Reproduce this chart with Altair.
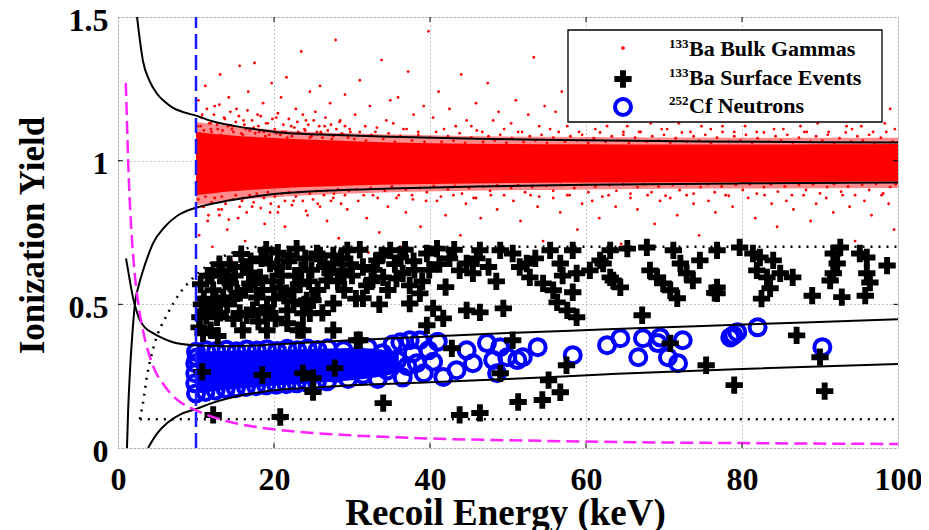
import altair as alt
import pandas as pd

FONT = "Liberation Serif"

# ---------------- axis ticks ----------------
X_TICKS = [0, 20, 40, 60, 80, 100]
Y_TICKS = [0, 0.5, 1, 1.5]
X_INNER = [20, 40, 60, 80]
Y_INNER = [0.5, 1.0]

# ---------------- curves ----------------
GAMMA_UP_E = [2.44, 3.2, 4.0, 5.0, 6.0, 7.05, 8.5, 10.1, 12.0, 14.7, 18.0, 21.2, 26.0, 35.0, 46.0, 60.0, 75.0, 90.0, 100.0]
GAMMA_UP_Y = [1.50, 1.347, 1.28, 1.233, 1.205, 1.184, 1.168, 1.156, 1.138, 1.122, 1.108, 1.097, 1.091, 1.083, 1.076, 1.071, 1.067, 1.064, 1.063]

GAMMA_LO_E = [1.15, 1.3, 1.54, 1.85, 2.18, 2.7, 3.21, 3.8, 4.49, 6.0, 7.7, 10.1, 14.4, 20.0, 27.0, 35.0, 46.0, 60.0, 80.0, 100.0]
GAMMA_LO_Y = [0.0, 0.13, 0.27, 0.40, 0.503, 0.57, 0.618, 0.665, 0.712, 0.77, 0.81, 0.837, 0.862, 0.884, 0.896, 0.903, 0.910, 0.916, 0.921, 0.924]

NR_UP_E = [1.03, 1.5, 1.92, 2.4, 2.82, 3.5, 4.49, 5.5, 7.05, 9.6, 14.4, 20.0, 30.0, 40.0, 50.0, 62.0, 75.0, 88.0, 100.0]
NR_UP_Y = [0.66, 0.585, 0.524, 0.475, 0.444, 0.418, 0.40, 0.385, 0.368, 0.358, 0.354, 0.36, 0.375, 0.388, 0.40, 0.412, 0.425, 0.437, 0.448]

NR_LO_E = [3.85, 5.0, 6.3, 8.0, 10.1, 12.2, 14.4, 18.6, 23.3, 28.5, 40.0, 50.0, 64.0, 80.0, 100.0]
NR_LO_Y = [0.0, 0.05, 0.087, 0.117, 0.137, 0.158, 0.175, 0.196, 0.208, 0.216, 0.229, 0.24, 0.258, 0.275, 0.292]

THRESH_E = [1.0, 1.1, 1.3, 1.6, 2.0, 2.56, 3.2, 4.5, 6.0, 7.5, 10.1, 14.0, 18.0, 23.7, 30.0, 40.0, 50.0, 64.0, 80.0, 100.0]
THRESH_Y = [1.27, 1.18, 1.0, 0.81, 0.65, 0.51, 0.41, 0.285, 0.215, 0.17, 0.13, 0.093, 0.072, 0.055, 0.044, 0.033, 0.027, 0.021, 0.017, 0.014]

SURF_E = [2.8, 3.2, 3.7, 4.7, 6.4, 7.9, 9.2, 11.8, 14.7, 18.0, 100.0]
SURF_Y = [0.1, 0.156, 0.247, 0.364, 0.469, 0.538, 0.58, 0.642, 0.68, 0.70, 0.70]
SURF_LO_E = [2.8, 100.0]
SURF_LO_Y = [0.1, 0.1]

ANALYSIS_E = 10.0          # recoil energy threshold (blue dashed)
Y_RANGE = [0.0, 1.5]

# ---------------- bulk gammas ----------------
CORE_E = [10, 12, 15, 20, 25, 30, 40, 50, 60, 70, 80, 90, 100]
CORE_LO = [0.88, 0.886, 0.894, 0.903, 0.909, 0.914, 0.919, 0.922, 0.924, 0.925, 0.926, 0.927, 0.928]
CORE_HI = [1.10, 1.094, 1.087, 1.079, 1.073, 1.068, 1.061, 1.058, 1.057, 1.056, 1.056, 1.057, 1.058]
HALO_E = [10, 15, 20, 30, 45, 60, 80, 100]
HALO_LO = [0.845, 0.862, 0.873, 0.886, 0.895, 0.9, 0.903, 0.905]
HALO_HI = [1.135, 1.12, 1.108, 1.095, 1.086, 1.082, 1.08, 1.08]

GAMMA_OUT = [
    (10.3,1.21),(10.8,1.16),(11.2,1.26),(11.9,1.13),(12.4,1.19),(13.1,1.30),(13.6,1.15),(14.2,1.22),(14.7,1.12),(10.6,1.12),
    (12.8,1.11),(11.5,0.79),(10.4,0.74),(12.1,0.70),(13.3,0.83),(14.0,0.76),(14.6,0.65),(13.0,0.81),(11.0,0.84),(12.6,0.60),
    (15.2,1.18),(15.6,1.33),(16.1,1.14),(16.7,1.24),(17.5,1.34),(17.9,1.16),(18.6,1.20),(19.2,1.13),(19.7,1.27),(16.4,1.11),
    (18.1,1.10),(15.4,0.80),(16.3,0.72),(17.2,0.84),(18.0,0.65),(18.8,0.78),(19.5,0.82),(17.7,0.58),(15.9,0.86),
    (20.3,1.15),(20.9,1.22),(21.6,1.29),(22.2,1.12),(22.8,1.18),(23.5,1.38),(24.1,1.14),(24.6,1.24),(21.1,1.10),(23.9,1.11),
    (20.6,0.84),(21.4,0.77),(22.5,0.86),(23.2,0.70),(24.3,0.81),(24.8,0.62),
    (25.3,1.17),(25.9,1.26),(26.5,1.12),(27.2,1.20),(27.9,1.42),(28.5,1.14),(29.1,1.23),(29.7,1.11),(26.0,1.10),(25.6,0.85),
    (26.8,0.79),(27.6,0.87),(28.3,0.73),(29.4,0.83),(28.9,0.66),
    (30.4,1.16),(31.0,1.28),(31.7,1.12),(32.3,1.19),(33.0,1.10),(33.8,1.35),(34.4,1.14),(34.9,1.21),(30.8,0.86),(31.9,0.80),
    (32.7,0.88),(33.5,0.75),(34.6,0.84),(32.1,0.68),
    (35.3,1.13),(35.9,1.22),(36.6,1.11),(37.2,1.31),(37.9,1.16),(38.5,1.10),(39.2,1.19),(39.8,1.45),(35.7,0.87),(36.9,0.82),
    (37.7,0.88),(38.8,0.77),(39.5,0.86),(36.3,0.70),
    (40.4,1.15),(41.1,1.24),(41.8,1.11),(42.5,1.18),(43.3,1.12),(44.0,1.30),(44.7,1.14),(40.9,0.86),(42.0,0.81),(43.0,0.88),
    (43.9,0.74),(44.6,0.85),
    (45.3,1.12),(45.9,1.20),(46.7,1.10),(47.4,1.27),(48.1,1.14),(48.8,1.17),(49.5,1.11),(45.6,0.87),(46.5,0.80),(47.8,0.88),
    (48.6,0.83),(49.4,0.69),
    (50.4,1.13),(51.0,1.21),(51.8,1.10),(52.6,1.16),(53.3,1.36),(54.0,1.12),(54.7,1.19),(50.7,0.86),(51.6,0.79),(52.9,0.88),
    (53.8,0.84),(54.5,0.72),
    (55.4,1.11),(56.1,1.17),(56.9,1.24),(57.6,1.12),(58.3,1.15),(59.1,1.10),(59.7,1.29),(55.8,0.87),(56.7,0.82),(57.9,0.88),
    (58.9,0.76),(59.5,0.85),
    (60.4,1.14),(61.2,1.11),(61.9,1.20),(62.7,1.12),(63.4,1.43),(64.1,1.16),(64.8,1.10),(60.8,0.86),(61.7,0.80),(62.9,0.88),
    (63.8,0.84),(64.5,0.71),
    (65.3,1.12),(66.0,1.18),(66.8,1.10),(67.5,1.25),(68.3,1.13),(69.0,1.16),(69.7,1.11),(65.7,0.87),(66.6,0.83),(67.9,0.88),
    (68.8,0.78),(69.5,0.86),
    (70.4,1.11),(71.1,1.19),(71.9,1.13),(72.6,1.32),(73.4,1.10),(74.1,1.15),(74.8,1.12),(70.8,0.87),(71.7,0.81),(72.9,0.88),
    (73.8,0.85),(74.5,0.74),
    (75.3,1.14),(76.0,1.11),(76.8,1.21),(77.5,1.12),(78.3,1.17),(79.0,1.10),(79.7,1.38),(75.7,0.86),(76.6,0.82),(77.9,0.88),
    (78.8,0.84),(79.5,0.69),
    (80.4,1.12),(81.2,1.18),(81.9,1.10),(82.7,1.14),(83.4,1.23),(84.1,1.11),(84.8,1.16),(80.8,0.87),(81.7,0.80),(82.9,0.88),
    (83.8,0.85),(84.5,0.77),
    (85.3,1.11),(86.0,1.15),(86.8,1.26),(87.5,1.12),(88.3,1.10),(89.0,1.19),(89.7,1.13),(85.7,0.86),(86.6,0.83),(87.9,0.88),
    (88.8,0.79),(89.5,0.85),
    (90.4,1.14),(91.1,1.10),(91.9,1.17),(92.6,1.34),(93.4,1.12),(94.1,1.11),(94.8,1.21),(90.8,0.87),(91.7,0.82),(92.9,0.88),
    (93.8,0.84),(94.5,0.72),
    (95.3,1.12),(96.0,1.16),(96.8,1.10),(97.5,1.23),(98.3,1.13),(99.0,1.18),(99.6,1.11),(95.7,0.86),(96.6,0.81),(97.9,0.88),
    (98.8,0.85),(99.5,0.76),
]

GAMMA_NEAR = [
    (10.2,1.12),(10.7,1.15),(11.0,1.105),(11.4,1.18),(11.7,1.13),(12.0,1.10),(12.3,1.16),(12.7,1.125),(13.0,1.195),
    (13.4,1.105),(13.7,1.145),(14.1,1.12),(14.4,1.17),(14.8,1.10),(15.1,1.135),(15.5,1.155),(15.8,1.095),(16.2,1.125),
    (16.6,1.175),(16.9,1.105),(17.2,1.14),(17.6,1.095),(18.0,1.12),(18.3,1.155),(18.7,1.10),(19.0,1.13),(19.4,1.09),
    (19.8,1.145),(20.1,1.11),(20.5,1.165),(20.8,1.09),(21.2,1.125),(21.5,1.10),(21.9,1.145),(22.3,1.085),(22.6,1.115),
    (23.0,1.135),(23.3,1.095),(23.7,1.16),(24.0,1.105),(24.4,1.125),(24.8,1.085),(25.1,1.14),(25.5,1.10),(25.8,1.12),
    (26.2,1.08),(26.6,1.15),(26.9,1.105),(27.3,1.125),(27.6,1.085),(28.0,1.11),(28.4,1.135),(28.7,1.095),(29.1,1.12),
    (29.5,1.08),(29.8,1.10),
    (10.5,1.095),(11.9,1.11),(13.2,1.09),(14.6,1.11),(16.0,1.09),(17.4,1.115),(18.9,1.085),(20.3,1.095),(21.7,1.08),
    (23.1,1.10),(24.6,1.08),(26.0,1.095),(27.4,1.075),(28.9,1.09),
    (10.3,0.865),(10.8,0.84),(11.2,0.875),(11.6,0.81),(12.0,0.855),(12.4,0.87),(12.9,0.83),(13.3,0.875),(13.8,0.85),
    (14.2,0.795),(14.7,0.865),(15.1,0.88),(15.6,0.84),(16.0,0.87),(16.5,0.82),(16.9,0.88),(17.4,0.855),(17.8,0.885),
    (18.3,0.835),(18.7,0.87),(19.2,0.89),(19.6,0.85),(20.1,0.875),(20.5,0.82),(21.0,0.885),(21.4,0.86),(21.9,0.89),
    (22.3,0.845),(22.8,0.875),(23.2,0.89),(23.7,0.86),(24.1,0.825),(24.6,0.885),(25.0,0.865),(25.5,0.895),(25.9,0.84),
    (26.4,0.88),(26.8,0.895),(27.3,0.86),(27.7,0.885),(28.2,0.90),(28.6,0.85),(29.1,0.88),(29.6,0.895),
    (30.3,1.075),(31.0,1.10),(31.8,1.07),(32.5,1.09),(33.2,1.115),(34.0,1.075),(34.7,1.095),(35.5,1.065),(36.2,1.085),
    (37.0,1.11),(37.7,1.07),(38.5,1.09),(39.3,1.065),(40.0,1.08),(40.8,1.10),(41.5,1.065),(42.3,1.085),(43.0,1.07),
    (43.8,1.095),(44.5,1.062),(45.3,1.08),(46.0,1.105),(46.8,1.065),(47.5,1.085),(48.3,1.07),(49.0,1.09),(49.8,1.062),
    (50.5,1.078),(51.3,1.10),(52.0,1.065),(52.8,1.085),(53.5,1.07),(54.3,1.09),(55.0,1.062),(55.8,1.08),(56.5,1.10),
    (57.3,1.066),(58.0,1.085),(58.8,1.07),(59.5,1.09),(60.3,1.062),(61.0,1.078),(61.8,1.098),(62.5,1.066),(63.3,1.085),
    (64.0,1.07),(64.8,1.09),(65.5,1.062),(66.3,1.08),(67.0,1.10),(67.8,1.066),(68.5,1.085),(69.3,1.07),(70.0,1.09),
    (70.8,1.062),(71.5,1.078),(72.3,1.098),(73.0,1.066),(73.8,1.085),(74.5,1.07),(75.3,1.09),(76.0,1.062),(76.8,1.08),
    (77.5,1.10),(78.3,1.066),(79.0,1.085),(79.8,1.07),(80.5,1.09),(81.3,1.062),(82.0,1.078),(82.8,1.098),(83.5,1.066),
    (84.3,1.085),(85.0,1.07),(85.8,1.09),(86.5,1.062),(87.3,1.08),(88.0,1.10),(88.8,1.066),(89.5,1.085),(90.3,1.07),
    (91.0,1.09),(91.8,1.062),(92.5,1.078),(93.3,1.098),(94.0,1.066),(94.8,1.085),(95.5,1.07),(96.3,1.09),(97.0,1.062),
    (97.8,1.08),(98.5,1.10),(99.3,1.066),
    (30.6,0.90),(31.5,0.88),(32.4,0.905),(33.3,0.87),(34.2,0.895),(35.1,0.91),(36.0,0.88),(36.9,0.90),(37.8,0.865),
    (38.7,0.905),(39.6,0.89),(40.5,0.912),(41.4,0.875),(42.3,0.90),(43.2,0.912),(44.1,0.885),(45.0,0.905),(45.9,0.87),
    (46.8,0.91),(47.7,0.895),(48.6,0.915),(49.5,0.88),(50.4,0.905),(51.3,0.915),(52.2,0.89),(53.1,0.908),(54.0,0.875),
    (54.9,0.912),(55.8,0.895),(56.7,0.916),(57.6,0.88),(58.5,0.905),(59.4,0.915),(60.3,0.89),(61.2,0.91),(62.1,0.875),
    (63.0,0.915),(63.9,0.895),(64.8,0.917),(65.7,0.885),(66.6,0.908),(67.5,0.917),(68.4,0.89),(69.3,0.91),(70.2,0.878),
    (71.1,0.915),(72.0,0.897),(72.9,0.918),(73.8,0.885),(74.7,0.908),(75.6,0.918),(76.5,0.89),(77.4,0.91),(78.3,0.878),
    (79.2,0.916),(80.1,0.898),(81.0,0.918),(81.9,0.885),(82.8,0.908),(83.7,0.918),(84.6,0.892),(85.5,0.91),(86.4,0.88),
    (87.3,0.916),(88.2,0.898),(89.1,0.918),(90.0,0.886),(90.9,0.908),(91.8,0.919),(92.7,0.892),(93.6,0.91),(94.5,0.88),
    (95.4,0.916),(96.3,0.898),(97.2,0.919),(98.1,0.886),(99.0,0.908),(99.7,0.918),
]

# ---------------- surface events ----------------
SURFACE = [
    (13.3,0.618),(16.0,0.63),(19.5,0.642),(22.9,0.694),(22.0,0.67),(12.2,0.549),(14.4,0.573),(16.9,0.573),(18.2,0.594),
    (20.4,0.63),(20.8,0.559),(22.4,0.549),(25.0,0.514),(27.6,0.503),(23.7,0.469),(21.7,0.434),(19.1,0.41),(16.0,0.41),
    (10.9,0.399),(10.5,0.455),(12.7,0.455),(16.5,0.462),(11.8,0.49),(13.5,0.524),(15.3,0.538),(17.8,0.524),(19.1,0.49),
    (21.7,0.479),(23.1,0.41),(25.9,0.67),(26.8,0.583),(27.6,0.642),
    (11.0,0.52),(12.0,0.60),(14.0,0.50),(15.0,0.60),(17.0,0.65),(18.5,0.55),(20.0,0.52),(21.0,0.60),(23.5,0.62),(24.5,0.58),
    (14.8,0.45),(18.0,0.44),(13.0,0.64),(15.8,0.675),(19.0,0.69),(11.5,0.60),(24.0,0.66),(22.5,0.51),(10.6,0.57),(20.5,0.68),
    (17.3,0.48),(12.8,0.39),
    (10.4,0.42),(10.7,0.50),(11.3,0.46),(11.9,0.41),(12.5,0.51),(13.1,0.47),(13.8,0.58),(14.3,0.64),(14.9,0.52),(15.6,0.47),
    (16.3,0.55),(16.8,0.61),(17.6,0.59),(18.4,0.66),(18.9,0.47),(19.8,0.58),(20.2,0.45),(21.3,0.53),(21.9,0.65),(22.7,0.60),
    (23.3,0.57),(23.9,0.50),(24.8,0.62),(25.6,0.55),(26.2,0.47),(26.5,0.63),(28.2,0.58),(28.6,0.66),(29.8,0.64),(30.5,0.52),
    (31.0,0.69),(32.8,0.62),(33.8,0.67),(34.6,0.55),(35.7,0.59),(36.8,0.69),(37.9,0.65),(39.0,0.58),(39.9,0.62),(41.2,0.64),
    (42.0,0.56),(43.1,0.69),
    (25.5,0.677),(27.6,0.67),(29.4,0.688),(27.2,0.608),(28.8,0.618),(31.4,0.63),(33.2,0.653),(34.9,0.688),(36.2,0.663),
    (36.5,0.608),(34.0,0.594),(31.9,0.566),(37.4,0.566),(38.7,0.538),(31.4,0.521),(37.4,0.503),(39.6,0.677),(40.9,0.694),
    (40.4,0.486),(41.7,0.451),(39.6,0.427),(43.8,0.618),(44.7,0.642),(45.5,0.608),(46.0,0.66),(44.7,0.479),(46.4,0.472),
    (49.4,0.486),(46.4,0.688),(49.0,0.688),(50.6,0.677),(51.5,0.63),(52.4,0.642),(52.8,0.594),(54.5,0.573),(55.8,0.549),
    (56.3,0.507),(57.6,0.479),(58.8,0.455),(55.4,0.688),(56.7,0.642),(58.3,0.688),(58.8,0.608),(60.5,0.618),(61.8,0.653),
    (63.1,0.594),(58.3,0.542),(24.2,0.514),(24.6,0.469),(23.7,0.41),(27.6,0.41),(30.6,0.375),
    (30.0,0.60),(32.5,0.58),(35.5,0.64),(38.0,0.62),(29.0,0.55),(33.5,0.50),(42.5,0.66),(47.5,0.63),(48.5,0.58),(53.5,0.66),
    (57.0,0.60),
    (63.1,0.688),(65.3,0.694),(67.8,0.698),(62.2,0.642),(63.5,0.583),(64.4,0.559),(68.2,0.618),(69.1,0.594),(69.9,0.573),
    (70.8,0.549),(71.7,0.521),(71.2,0.688),(72.1,0.642),(72.9,0.608),(73.7,0.583),(74.6,0.653),(76.8,0.688),(76.8,0.559),
    (76.8,0.538),(79.7,0.698),(81.4,0.677),(82.3,0.663),(81.9,0.618),(83.2,0.594),(84.0,0.653),(84.9,0.608),(86.5,0.594),
    (83.6,0.556),(91.7,0.677),(92.2,0.642),(91.7,0.608),(91.3,0.583),(92.6,0.698),(96.0,0.663),(96.0,0.608),(96.4,0.576),
    (95.1,0.677),(98.6,0.635),(82.5,0.52),(89.0,0.53),(92.8,0.525),(95.8,0.53),(76.5,0.54),(67.2,0.462),
    (10.8,0.265),(18.5,0.254),(23.7,0.26),(25.0,0.243),(12.2,0.115),(20.8,0.108),(25.0,0.195),(27.8,0.278),(31.0,0.375),
    (34.0,0.156),(43.8,0.115),(46.4,0.122),(51.3,0.16),(54.4,0.167),(55.2,0.236),(56.7,0.194),(57.5,0.288),(42.8,0.347),
    (49.0,0.26),(50.6,0.375),(70.8,0.364),(75.4,0.288),(79.0,0.219),(87.0,0.392),(90.0,0.316),(90.6,0.198),
]

# ---------------- neutrons ----------------
BLOB_E = [10, 12, 15, 18, 21, 24, 27, 30, 33, 36]
BLOB_LO = [0.19, 0.197, 0.205, 0.212, 0.218, 0.224, 0.23, 0.236, 0.245, 0.262]
BLOB_HI = [0.335, 0.337, 0.339, 0.34, 0.342, 0.344, 0.346, 0.348, 0.345, 0.33]

NEUTRONS = [
    (10.0,0.335),(11.3,0.34),(12.6,0.338),(13.9,0.342),(15.2,0.337),(16.5,0.343),(17.8,0.339),(19.1,0.344),(20.4,0.338),
    (21.7,0.345),(23.0,0.34),(24.3,0.346),(25.6,0.341),(26.9,0.347),
    (10.0,0.19),(11.2,0.195),(12.5,0.2),(13.8,0.205),(15.1,0.208),(16.4,0.212),(17.7,0.215),(19.0,0.218),(20.3,0.22),
    (21.6,0.222),(22.9,0.225),(24.2,0.228),(25.5,0.23),(26.8,0.232),
    (9.9,0.225),(9.9,0.26),(9.9,0.295),(10.1,0.315),
    (27.8,0.26),(28.2,0.30),(28.9,0.34),(29.5,0.24),(30.1,0.285),(30.8,0.32),(31.4,0.255),(32.0,0.35),(32.6,0.295),
    (33.3,0.24),(33.9,0.33),(34.5,0.27),(35.2,0.36),(35.8,0.305),(36.2,0.368),(36.5,0.245),(37.1,0.285),(37.4,0.375),
    (37.8,0.33),(38.3,0.295),(38.7,0.375),(39.2,0.26),(39.8,0.34),(40.4,0.30),(41.0,0.37),(41.7,0.247),
    (43.4,0.271),(44.7,0.34),(45.5,0.295),(47.3,0.365),(48.1,0.306),(49.0,0.351),(48.6,0.26),(49.9,0.316),(51.2,0.306),
    (51.9,0.316),(53.8,0.351),
    (58.3,0.323),(62.7,0.358),(64.4,0.382),(66.7,0.316),(67.3,0.382),(69.5,0.385),(69.2,0.365),(70.5,0.316),(71.8,0.295),
    (72.4,0.375),(78.5,0.385),(78.9,0.392),(79.4,0.403),(82.0,0.42),(90.3,0.351),
]

LEGEND_SUP = ["133", "133", "252"]
LEGEND_TXT = ["Ba Bulk Gammas", "Ba Surface Events", "Cf Neutrons"]

# ---------------- chart ----------------
XS = alt.Scale(domain=[0, 100], nice=False, zero=False)
YS = alt.Scale(domain=[0, 1.5], nice=False, zero=False)

XAX = alt.Axis(values=X_TICKS, format="d", title="Recoil Energy (keV)", grid=True,
               gridColor="#8a8a8a", gridDash=[1, 3], gridWidth=1, ticks=False, domain=False,
               labelFont=FONT, labelFontSize=32, labelFontWeight="bold", labelColor="black",
               labelPadding=16, labelFlush=False, labelOverlap=False,
               titleFont=FONT, titleFontSize=37, titleFontWeight="bold", titleColor="black",
               titleX=387, titleY=76, titleBaseline="alphabetic")
YAX = alt.Axis(values=Y_TICKS, format="~g", title="Ionization Yield", grid=True,
               gridColor="#8a8a8a", gridDash=[1, 3], gridWidth=1, ticks=False, domain=False,
               labelFont=FONT, labelFontSize=32, labelFontWeight="bold", labelColor="black",
               labelPadding=10, labelFlush=False, labelOverlap=False, labelOffset=3,
               titleFont=FONT, titleFontSize=35, titleFontWeight="bold", titleColor="black",
               titleX=-75, titleY=218, titleBaseline="alphabetic")


def ex(f="E"):
    return alt.X(f"{f}:Q", scale=XS, axis=XAX)


def ey(f="Y"):
    return alt.Y(f"{f}:Q", scale=YS, axis=YAX)


def curve(E, Y, color, width, dash=None):
    kw = dict(color=color, strokeWidth=width, clip=True, interpolate="monotone")
    if dash:
        kw["strokeDash"] = dash
    return alt.Chart(pd.DataFrame({"E": E, "Y": Y})).mark_line(**kw).encode(x=ex(), y=ey())


def band(E, lo, hi, color, opacity):
    df = pd.DataFrame({"E": E, "Y": lo, "Y2": hi})
    return alt.Chart(df).mark_area(color=color, opacity=opacity, interpolate="monotone", clip=True).encode(
        x=ex(), y=ey(), y2="Y2:Q")


def pts(lst):
    return pd.DataFrame({"E": [p[0] for p in lst], "Y": [p[1] for p in lst]})


CROSS = "M-1,-0.34H-0.34V-1H0.34V-0.34H1V0.34H0.34V1H-0.34V0.34H-1Z"

layers = []
layers.append(band(HALO_E, HALO_LO, HALO_HI, "#ff0000", 0.45))
layers.append(band(CORE_E, CORE_LO, CORE_HI, "#ff0000", 1.0))
layers.append(alt.Chart(pts(GAMMA_NEAR + GAMMA_OUT)).mark_circle(color="#ff0000", size=8, opacity=1, clip=True)
              .encode(x=ex(), y=ey()))
layers.append(band(BLOB_E, BLOB_LO, BLOB_HI, "#0000ff", 1.0))
layers.append(alt.Chart(pts(NEUTRONS)).mark_point(shape="circle", filled=False, color="#0000ff", size=256,
                                                  strokeWidth=4, opacity=1, clip=True)
              .encode(x=ex(), y=ey()))
layers.append(alt.Chart(pts(SURFACE)).mark_point(shape=CROSS, filled=True, color="black", size=300,
                                                 opacity=1, strokeWidth=0, clip=True)
              .encode(x=ex(), y=ey()))

# bands and cuts
layers.append(curve(GAMMA_UP_E, GAMMA_UP_Y, "black", 2))
layers.append(curve(GAMMA_LO_E, GAMMA_LO_Y, "black", 2))
layers.append(curve(NR_UP_E, NR_UP_Y, "black", 2))
layers.append(curve(NR_LO_E, NR_LO_Y, "black", 2))
layers.append(curve(SURF_E, SURF_Y, "black", 2.5, [2, 6]))
layers.append(curve(SURF_LO_E, SURF_LO_Y, "black", 2.5, [2, 6]))
layers.append(curve(THRESH_E, THRESH_Y, "#ff22ff", 2.5, [13, 6]))
layers.append(alt.Chart(pd.DataFrame({"E": [ANALYSIS_E], "Y": [Y_RANGE[0]], "Y2": [Y_RANGE[1]]}))
              .mark_rule(color="#1a1aff", strokeWidth=2.5, strokeDash=[15, 6])
              .encode(x=ex(), y=ey(), y2="Y2:Q"))

# inward tick marks (box style)
tl_y = 0.017
tl_x = 0.6
xt = pd.DataFrame({"E": X_INNER * 2,
                   "Y": [0.0] * len(X_INNER) + [1.5] * len(X_INNER),
                   "Y2": [tl_y] * len(X_INNER) + [1.5 - tl_y] * len(X_INNER)})
layers.append(alt.Chart(xt).mark_rule(color="black", strokeWidth=1).encode(x=ex(), y=ey(), y2="Y2:Q"))
yt = pd.DataFrame({"Y": Y_INNER * 2,
                   "E": [0.0] * len(Y_INNER) + [100.0] * len(Y_INNER),
                   "E2": [tl_x] * len(Y_INNER) + [100 - tl_x] * len(Y_INNER)})
layers.append(alt.Chart(yt).mark_rule(color="black", strokeWidth=1).encode(x=ex(), x2="E2:Q", y=ey()))

# legend (drawn by hand so that the isotope numbers can be superscripts)
ONE = pd.DataFrame({"k": [0]})
layers.append(alt.Chart(ONE).mark_rect(fill="white", stroke="black", strokeWidth=1.3)
              .encode(x=alt.value(450), x2=alt.value(764), y=alt.value(13), y2=alt.value(105)))
sym_x = 505
layers.append(alt.Chart(ONE).mark_circle(color="#ff0000", size=14, opacity=1)
              .encode(x=alt.value(sym_x), y=alt.value(31)))
layers.append(alt.Chart(ONE).mark_point(shape=CROSS, filled=True, color="black", size=300, opacity=1, strokeWidth=0)
              .encode(x=alt.value(sym_x), y=alt.value(62)))
layers.append(alt.Chart(ONE).mark_point(shape="circle", filled=False, color="#0000ff", size=256, strokeWidth=4,
                                        opacity=1)
              .encode(x=alt.value(sym_x), y=alt.value(90)))
for i, (sup, txt) in enumerate(zip(LEGEND_SUP, LEGEND_TXT)):
    base = 39 + 28.5 * i
    layers.append(alt.Chart(ONE).mark_text(text=sup, align="left", baseline="alphabetic", font=FONT,
                                           fontSize=13, fontWeight="bold", color="black")
                  .encode(x=alt.value(551), y=alt.value(base - 8)))
    layers.append(alt.Chart(ONE).mark_text(text=txt, align="left", baseline="alphabetic", font=FONT,
                                           fontSize=22, fontWeight="bold", color="black")
                  .encode(x=alt.value(571), y=alt.value(base)))

chart = (alt.layer(*layers)
         .properties(width=780, height=431, autosize="none",
                     padding={"left": 110, "top": 9, "right": 23, "bottom": 85})
         .configure_view(stroke="black", strokeWidth=1.5)
         .configure(background="white"))

chart.save("out.html", embed_options={"renderer": "svg", "actions": False})
